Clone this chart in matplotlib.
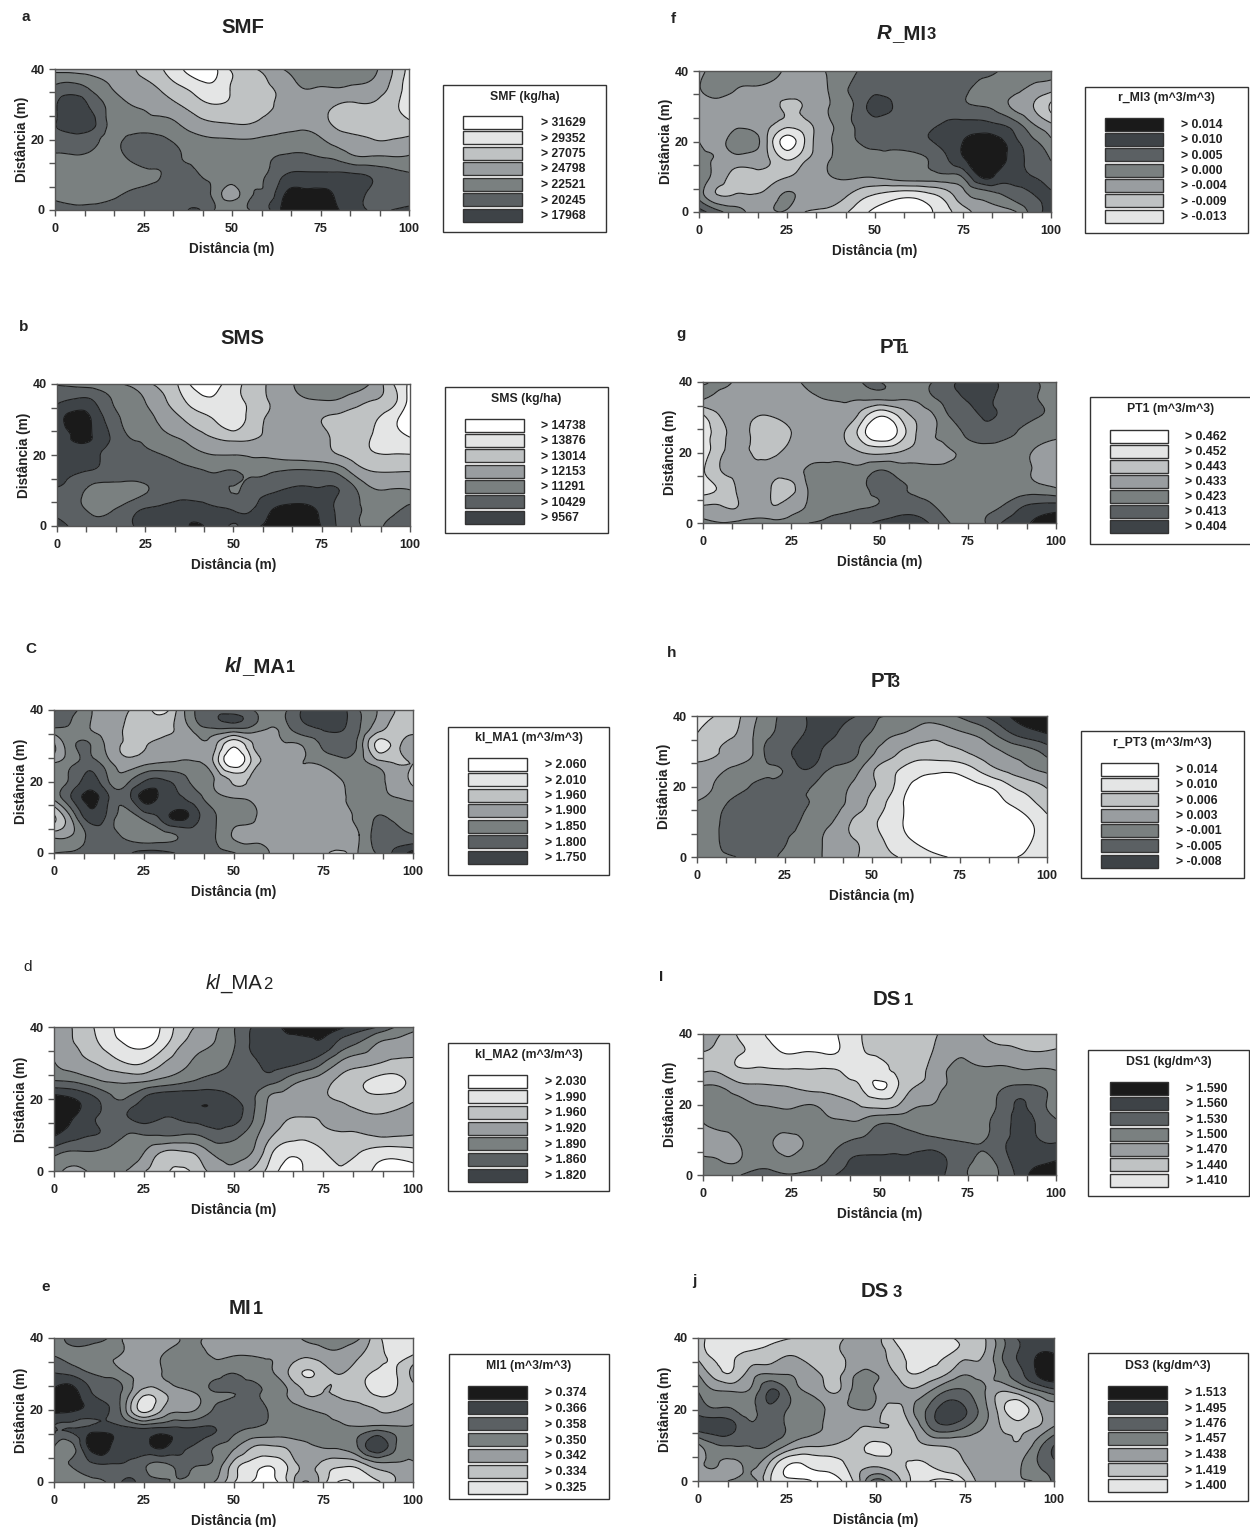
import numpy as np
import matplotlib
matplotlib.use("Agg")
import matplotlib.pyplot as plt
import matplotlib.tri as tri
from matplotlib.patches import Rectangle

plt.rcParams["font.family"] = ["Liberation Sans", "DejaVu Sans"]

# grey classes, darkest to white
band_colors = ["#1a1a1a", "#3e4347", "#5b6063", "#7a8080", "#999da0", "#bfc2c3", "#e4e5e5", "#ffffff"]
x_nodes = list(range(0, 101, 5))
y_nodes = [40, 35, 30, 25, 20, 15, 10, 5, 0]

# values in class units (3.5 = middle of the 4th grey), rows y=40..0, columns x=0..100
grid_a = [
    [4.3, 4.4, 4.5, 4.6, 4.8, 5.2, 5.9, 6.8, 7.5, 7.2, 5.8, 5.2, 4.6, 3.9, 3.4, 3.2, 3.3, 3.3, 3.8, 4.9, 6.3],
    [2.9, 2.7, 3.2, 3.9, 4.5, 4.7, 5.2, 5.9, 6.5, 6.8, 5.9, 5.5, 5.1, 4.6, 3.95, 4.0, 3.95, 4.1, 4.3, 5.2, 6.5],
    [2.2, 1.3, 2.2, 3.2, 3.9, 4.1, 4.5, 5.0, 5.6, 6.0, 5.8, 5.5, 5.2, 4.7, 4.5, 4.5, 5.0, 5.1, 5.1, 5.7, 6.3],
    [2.1, 1.2, 1.5, 3.1, 3.3, 3.6, 3.7, 4.1, 4.7, 5.0, 5.1, 5.1, 4.7, 4.4, 4.3, 4.6, 5.3, 5.5, 5.5, 5.5, 5.9],
    [2.4, 2.5, 2.7, 3.2, 2.95, 2.7, 2.8, 3.3, 3.7, 3.9, 3.95, 3.97, 3.8, 3.7, 3.6, 3.9, 4.5, 4.8, 5.0, 5.0, 4.8],
    [3.2, 3.1, 3.2, 3.4, 3.0, 2.5, 2.4, 2.9, 3.3, 3.5, 3.5, 3.4, 3.1, 2.9, 2.8, 3.0, 3.3, 3.9, 3.9, 3.95, 3.9],
    [3.5, 3.6, 3.6, 3.5, 3.4, 3.2, 3.0, 2.5, 2.9, 3.2, 3.5, 3.3, 2.95, 2.0, 1.8, 1.8, 1.8, 1.9, 2.2, 2.6, 2.9],
    [3.3, 3.4, 3.4, 3.3, 3.0, 2.8, 2.6, 2.5, 2.7, 3.3, 4.4, 3.2, 2.7, 1.05, 0.75, 0.8, 1.2, 1.7, 2.2, 2.5, 2.6],
    [2.5, 2.8, 2.8, 2.6, 2.4, 2.3, 2.2, 2.2, 1.9, 3.0, 3.5, 3.0, 2.2, 0.6, 0.3, 0.3, 0.95, 1.7, 2.1, 2.0, 1.7],
]
grid_b = [
    [3.1, 3.3, 3.5, 3.7, 4.1, 4.7, 5.4, 6.2, 7.6, 7.3, 6.4, 5.6, 4.9, 4.3, 3.6, 3.3, 3.4, 3.5, 4.3, 5.9, 7.2],
    [2.1, 1.8, 1.9, 2.9, 3.4, 4.0, 4.8, 5.7, 6.6, 6.9, 6.5, 5.7, 5.0, 4.5, 4.2, 4.1, 4.2, 4.7, 5.1, 5.7, 7.4],
    [1.6, 0.5, 1.1, 2.4, 3.2, 3.6, 4.3, 4.9, 5.5, 6.1, 6.6, 5.6, 4.9, 4.6, 4.6, 5.0, 5.3, 5.5, 5.9, 6.7, 7.6],
    [1.5, 0.9, 1.0, 2.0, 2.95, 3.2, 3.7, 4.1, 4.6, 5.1, 5.4, 5.2, 4.7, 4.3, 4.3, 4.7, 5.3, 5.7, 6.1, 6.6, 7.0],
    [1.4, 1.6, 1.7, 2.4, 2.6, 2.8, 3.0, 3.4, 3.8, 4.0, 4.0, 4.1, 4.15, 4.3, 4.4, 4.6, 5.0, 5.5, 5.9, 5.95, 5.95],
    [1.6, 1.9, 2.2, 2.4, 2.5, 2.5, 2.5, 2.6, 2.8, 3.0, 2.9, 3.2, 3.05, 2.8, 2.7, 2.8, 3.2, 4.4, 4.95, 4.97, 4.95],
    [2.1, 2.5, 3.3, 3.4, 3.4, 3.1, 2.6, 2.4, 2.4, 2.6, 3.05, 2.6, 2.2, 1.9, 1.8, 1.9, 2.0, 3.0, 3.9, 3.9, 3.95],
    [2.3, 2.6, 3.3, 3.2, 2.6, 2.0, 1.8, 1.5, 1.6, 1.9, 2.1, 2.1, 1.2, 0.8, 0.8, 1.3, 2.3, 2.9, 3.2, 3.2, 2.8],
    [1.6, 2.2, 2.5, 2.6, 2.2, 1.7, 1.4, 1.2, 0.9, 1.4, 2.1, 1.3, 0.8, 0.4, 0.4, 1.05, 2.2, 2.9, 3.2, 2.7, 2.4],
]
grid_c = [
    [3.1, 2.7, 3.9, 4.4, 4.9, 5.4, 6.5, 4.6, 2.8, 2.3, 2.5, 2.9, 3.6, 3.0, 1.8, 1.5, 1.7, 3.0, 4.0, 5.0, 5.5],
    [3.0, 3.3, 4.0, 4.5, 5.1, 5.5, 5.4, 4.7, 3.4, 2.9, 2.9, 3.2, 4.0, 3.2, 2.2, 1.9, 1.9, 2.9, 4.5, 5.4, 5.4],
    [5.2, 3.3, 2.95, 4.3, 5.1, 5.05, 4.7, 4.4, 4.2, 4.9, 6.9, 5.2, 4.4, 4.1, 3.9, 2.8, 2.4, 3.4, 6.3, 5.5, 4.6],
    [3.9, 3.2, 2.5, 3.6, 4.6, 4.2, 3.9, 3.8, 3.9, 5.3, 7.6, 5.8, 4.7, 4.3, 4.0, 3.9, 3.4, 3.6, 4.4, 5.0, 5.0],
    [3.3, 2.7, 1.6, 2.9, 3.3, 2.0, 1.8, 2.4, 3.4, 4.1, 5.1, 4.8, 4.3, 4.3, 4.3, 4.2, 4.05, 3.4, 3.7, 4.4, 5.2],
    [3.9, 2.0, 0.7, 1.9, 2.6, 0.7, 1.5, 1.9, 2.6, 3.6, 3.9, 4.1, 4.4, 4.5, 4.5, 4.5, 4.2, 3.6, 3.6, 3.9, 4.1],
    [6.2, 3.8, 1.5, 2.3, 3.4, 2.7, 1.7, 0.7, 1.8, 2.95, 3.6, 3.9, 4.3, 4.5, 4.5, 4.5, 4.3, 3.7, 2.95, 3.3, 3.6],
    [4.4, 4.0, 2.7, 2.6, 3.2, 3.5, 3.3, 2.9, 2.6, 3.0, 4.1, 4.2, 4.2, 4.3, 4.4, 4.5, 4.4, 4.0, 2.6, 2.6, 2.95],
    [3.0, 2.9, 2.5, 2.3, 2.2, 1.6, 1.7, 2.1, 2.6, 2.7, 2.95, 3.5, 4.0, 4.3, 4.5, 4.8, 5.3, 3.9, 2.9, 1.8, 0.6],
]
grid_d = [
    [4.3, 5.0, 5.8, 6.7, 7.5, 7.8, 6.9, 5.6, 4.9, 4.2, 3.1, 2.0, 1.3, 0.9, 0.5, 0.5, 0.8, 1.4, 2.0, 3.0, 3.6],
    [4.3, 4.9, 5.5, 6.4, 7.0, 7.2, 6.4, 5.1, 4.4, 3.9, 3.1, 1.9, 1.5, 1.15, 1.2, 1.3, 2.5, 3.2, 4.1, 4.4, 4.6],
    [3.95, 4.5, 4.9, 5.4, 6.0, 6.0, 5.1, 4.4, 3.7, 3.3, 2.9, 2.3, 1.7, 1.7, 2.1, 3.0, 4.2, 4.7, 4.95, 5.2, 5.1],
    [2.95, 3.1, 3.6, 4.1, 4.2, 4.1, 3.7, 3.3, 2.9, 2.7, 2.6, 2.5, 2.6, 3.4, 4.1, 4.6, 5.3, 5.8, 6.3, 6.4, 5.5],
    [0.5, 0.9, 1.6, 2.6, 2.95, 1.9, 1.3, 1.2, 1.2, 1.3, 1.9, 2.7, 4.1, 4.4, 4.6, 4.9, 5.1, 5.5, 5.7, 5.5, 5.1],
    [0.4, 0.9, 1.7, 2.3, 2.1, 1.5, 1.9, 1.8, 1.5, 1.4, 1.6, 2.8, 4.3, 4.95, 5.0, 4.9, 4.7, 4.8, 4.9, 4.85, 4.8],
    [0.9, 1.5, 1.95, 2.3, 3.0, 3.0, 2.95, 3.0, 3.0, 2.4, 2.7, 3.5, 4.8, 5.5, 5.7, 5.3, 5.1, 5.1, 4.9, 4.9, 5.0],
    [2.7, 3.2, 3.1, 3.3, 3.5, 4.0, 5.1, 5.2, 4.8, 3.8, 3.6, 4.0, 5.7, 6.8, 6.7, 6.1, 5.7, 6.0, 6.5, 6.6, 6.4],
    [3.6, 4.3, 3.9, 3.6, 4.0, 4.9, 5.5, 6.4, 5.5, 4.6, 4.2, 5.2, 6.3, 7.5, 6.9, 6.4, 6.0, 6.5, 7.2, 7.5, 7.3],
]
grid_e = [
    [3.3, 2.8, 2.5, 3.0, 4.2, 4.5, 4.4, 4.0, 3.9, 4.4, 4.7, 4.8, 4.8, 4.6, 3.8, 3.4, 3.3, 3.9, 5.7, 6.5, 6.4],
    [3.0, 3.2, 3.5, 3.9, 4.1, 4.4, 4.0, 3.7, 3.7, 4.1, 4.0, 4.0, 4.1, 4.4, 4.9, 4.5, 4.4, 4.95, 5.6, 6.3, 5.9],
    [1.9, 2.2, 2.9, 3.3, 3.9, 4.3, 4.0, 3.8, 3.6, 3.4, 2.95, 3.5, 3.8, 4.9, 6.1, 5.5, 5.0, 5.6, 6.2, 6.1, 4.6],
    [0.9, 0.6, 1.9, 2.5, 3.4, 5.5, 5.1, 4.3, 3.8, 3.0, 2.95, 2.7, 3.4, 4.0, 5.05, 5.0, 5.2, 5.6, 6.2, 6.0, 5.5],
    [0.7, 0.8, 1.3, 1.9, 3.95, 6.3, 5.0, 4.2, 3.9, 2.8, 2.3, 2.3, 3.1, 3.5, 3.9, 4.1, 4.4, 4.7, 5.0, 5.05, 4.6],
    [1.95, 2.0, 1.7, 1.5, 1.8, 2.1, 1.9, 1.9, 1.9, 2.0, 2.7, 3.0, 3.2, 3.3, 3.4, 3.6, 3.7, 3.8, 3.5, 3.7, 3.7],
    [2.9, 3.3, 0.7, 0.8, 1.6, 1.4, 0.8, 1.6, 2.2, 3.0, 3.7, 4.85, 5.05, 4.8, 4.2, 3.9, 3.8, 2.8, 1.2, 2.9, 3.2],
    [3.4, 2.9, 2.2, 2.0, 2.1, 2.7, 3.2, 2.6, 2.9, 3.3, 5.3, 6.4, 6.8, 5.9, 4.6, 5.3, 5.7, 5.4, 4.3, 4.2, 4.2],
    [3.4, 3.5, 3.3, 2.9, 1.8, 2.5, 2.8, 3.2, 3.6, 4.1, 5.9, 7.0, 7.5, 6.0, 3.9, 5.6, 7.2, 6.6, 6.2, 5.0, 4.7],
]
grid_f = [
    [4.3, 3.5, 3.3, 3.3, 3.5, 4.2, 4.4, 4.1, 3.4, 3.0, 2.6, 2.4, 2.4, 2.4, 2.4, 2.5, 2.7, 3.0, 3.4, 3.6, 3.8],
    [4.1, 3.4, 3.9, 4.1, 4.2, 4.4, 4.4, 4.2, 3.4, 2.7, 2.4, 2.3, 2.3, 2.3, 2.4, 2.7, 3.3, 3.4, 3.7, 4.3, 4.6],
    [4.5, 4.5, 4.5, 4.5, 4.6, 5.2, 4.9, 4.3, 3.6, 2.7, 1.6, 2.0, 2.2, 2.3, 2.4, 2.8, 3.0, 3.4, 4.3, 5.0, 6.2],
    [4.4, 4.4, 4.3, 4.3, 4.8, 5.5, 5.3, 4.4, 3.7, 2.8, 2.5, 2.4, 2.3, 2.2, 1.9, 1.7, 1.7, 2.0, 2.7, 4.0, 4.9],
    [4.0, 4.3, 3.5, 3.4, 5.4, 7.4, 6.0, 4.4, 3.7, 3.0, 2.8, 2.6, 2.4, 2.1, 1.6, 1.0, 0.6, 0.7, 1.8, 2.8, 3.8],
    [3.7, 4.1, 4.4, 4.5, 5.0, 6.1, 5.2, 4.3, 3.7, 3.4, 3.1, 3.3, 3.3, 3.0, 2.2, 1.1, 0.6, 0.6, 1.6, 2.3, 3.05],
    [3.5, 4.4, 5.3, 5.4, 5.3, 5.05, 4.6, 4.2, 3.9, 3.9, 3.9, 3.6, 3.4, 3.4, 3.3, 2.9, 0.95, 1.3, 1.7, 2.0, 2.4],
    [3.4, 5.0, 5.0, 5.0, 4.6, 3.9, 4.3, 4.4, 4.6, 5.4, 6.0, 6.4, 6.6, 6.2, 5.5, 4.3, 3.6, 3.1, 2.5, 2.0, 1.9],
    [1.6, 2.6, 3.5, 4.2, 4.1, 4.1, 5.0, 5.2, 5.6, 6.5, 7.2, 7.6, 7.7, 7.2, 6.4, 5.4, 4.7, 4.3, 4.05, 2.5, 1.6],
]
grid_g = [
    [4.3, 3.7, 4.2, 4.5, 4.4, 4.2, 3.8, 3.4, 3.2, 3.0, 3.0, 3.4, 3.7, 3.0, 2.2, 1.7, 1.6, 2.2, 2.6, 3.0, 3.3],
    [4.0, 4.5, 4.6, 4.6, 4.5, 4.4, 4.2, 4.0, 3.9, 3.95, 3.98, 3.95, 3.9, 3.2, 2.6, 1.9, 1.7, 2.4, 2.7, 3.0, 3.3],
    [6.3, 5.0, 4.6, 5.0, 5.0, 4.6, 4.4, 4.3, 4.4, 5.6, 7.1, 6.2, 4.9, 4.2, 3.0, 2.5, 1.9, 2.3, 2.7, 3.0, 3.3],
    [6.4, 5.4, 4.6, 5.3, 5.5, 5.0, 4.5, 4.4, 5.0, 6.5, 7.9, 6.9, 5.1, 4.1, 3.6, 2.8, 2.4, 2.8, 3.1, 3.5, 3.8],
    [6.5, 5.2, 4.6, 5.2, 5.2, 4.7, 4.5, 4.4, 4.6, 5.0, 5.2, 5.0, 4.7, 4.5, 4.1, 3.8, 3.6, 3.5, 3.6, 4.3, 4.7],
    [6.1, 5.0, 4.7, 4.9, 4.6, 4.4, 3.8, 3.6, 3.6, 3.6, 3.0, 3.4, 3.6, 3.7, 3.7, 3.6, 3.6, 3.6, 3.7, 4.2, 4.5],
    [6.4, 5.8, 4.8, 4.4, 5.2, 5.3, 3.9, 3.5, 3.4, 3.2, 2.6, 2.8, 3.1, 3.4, 3.5, 3.5, 3.5, 3.5, 3.6, 3.7, 4.0],
    [5.0, 5.0, 5.0, 4.4, 5.0, 4.5, 3.9, 3.4, 3.2, 3.1, 2.95, 2.6, 2.6, 2.95, 3.5, 3.5, 3.3, 3.0, 2.2, 1.8, 1.7],
    [3.5, 3.95, 3.7, 3.5, 3.6, 3.3, 3.0, 2.8, 2.7, 2.3, 1.8, 1.5, 1.4, 2.2, 3.0, 3.4, 3.0, 1.9, 1.3, 0.8, 0.3],
]
grid_h = [
    [6.3, 6.0, 5.4, 4.5, 3.4, 2.8, 2.1, 1.9, 1.8, 1.95, 2.8, 3.05, 3.4, 3.5, 3.2, 2.9, 2.3, 1.6, 0.9, 0.5, 0.3],
    [6.0, 5.3, 5.1, 4.3, 3.2, 2.7, 2.1, 1.5, 2.0, 2.6, 3.1, 3.8, 4.1, 4.6, 4.6, 4.2, 3.8, 3.0, 2.0, 1.4, 1.0],
    [5.3, 5.1, 4.8, 4.3, 2.8, 2.3, 1.5, 1.9, 2.4, 2.8, 3.8, 4.6, 5.2, 5.4, 5.3, 5.1, 4.7, 4.2, 3.7, 3.3, 2.6],
    [4.8, 4.4, 3.9, 3.5, 3.1, 2.9, 2.0, 2.5, 3.2, 3.6, 4.8, 5.6, 6.3, 6.7, 6.75, 6.6, 5.9, 5.1, 4.6, 4.1, 3.7],
    [4.4, 3.95, 3.4, 3.0, 2.8, 2.7, 2.8, 3.2, 3.6, 4.2, 4.9, 5.7, 6.9, 7.3, 7.6, 7.6, 7.25, 6.8, 6.0, 5.5, 4.9],
    [3.9, 3.5, 2.8, 2.6, 2.5, 2.5, 2.9, 3.1, 3.7, 4.4, 5.3, 6.2, 7.2, 7.9, 8.3, 8.4, 8.0, 7.5, 6.9, 6.3, 5.6],
    [3.6, 3.2, 2.6, 2.4, 2.4, 2.4, 3.1, 3.6, 4.2, 5.2, 5.8, 6.5, 7.15, 7.9, 8.5, 8.7, 8.6, 8.2, 7.8, 7.1, 6.3],
    [3.5, 3.2, 2.5, 2.4, 2.5, 2.9, 3.4, 3.9, 4.5, 5.0, 5.5, 6.3, 6.9, 7.4, 8.0, 8.4, 8.5, 8.2, 7.7, 7.1, 6.5],
    [3.4, 3.1, 3.1, 2.6, 2.6, 3.3, 3.6, 3.95, 4.3, 4.9, 5.4, 5.8, 6.2, 6.6, 6.9, 7.2, 7.5, 7.5, 7.1, 6.8, 6.3],
]
grid_i = [
    [4.3, 5.0, 6.1, 6.6, 7.4, 7.6, 7.7, 7.4, 6.7, 6.0, 5.7, 5.5, 5.3, 5.1, 4.7, 4.3, 5.1, 5.2, 5.3, 5.3, 5.3],
    [5.0, 5.4, 5.9, 6.2, 6.8, 7.1, 7.0, 7.1, 6.8, 6.1, 5.8, 5.6, 5.4, 5.0, 4.4, 4.2, 4.6, 4.7, 4.9, 5.0, 4.9],
    [5.2, 5.3, 5.9, 5.9, 5.95, 5.97, 6.0, 5.95, 6.2, 6.5, 6.3, 5.8, 5.4, 4.7, 3.9, 3.8, 3.9, 3.8, 4.0, 3.95, 4.05],
    [3.9, 4.0, 4.6, 4.8, 4.9, 5.03, 5.3, 5.4, 5.6, 6.1, 7.15, 6.1, 5.0, 4.5, 3.8, 3.7, 3.7, 3.1, 2.8, 2.95, 3.4],
    [3.6, 3.7, 3.8, 4.0, 4.1, 4.2, 4.0, 4.3, 4.7, 5.1, 5.4, 5.1, 4.2, 4.0, 3.6, 3.5, 3.4, 2.6, 1.9, 2.6, 3.3],
    [4.0, 3.7, 3.6, 3.5, 3.5, 3.5, 3.6, 3.8, 3.9, 3.8, 3.15, 3.2, 3.3, 3.4, 3.4, 3.5, 3.1, 2.5, 1.6, 2.2, 2.9],
    [4.4, 4.5, 3.9, 3.5, 4.0, 4.4, 3.7, 3.4, 3.1, 2.9, 2.5, 2.4, 2.6, 2.8, 3.0, 3.1, 3.0, 2.3, 1.5, 1.95, 2.2],
    [3.95, 4.1, 4.1, 3.4, 3.6, 3.95, 3.4, 3.1, 2.3, 1.9, 1.9, 1.9, 1.8, 1.6, 2.2, 2.8, 3.1, 2.4, 1.4, 1.3, 1.2],
    [3.7, 3.6, 3.1, 2.5, 2.6, 2.9, 2.6, 2.4, 1.6, 1.4, 1.3, 1.3, 1.2, 1.5, 2.3, 3.0, 3.6, 2.7, 1.6, 0.4, 0.2],
]
grid_j = [
    [5.7, 6.4, 6.5, 6.4, 6.3, 6.1, 5.8, 5.4, 5.1, 4.5, 4.6, 6.1, 6.4, 6.5, 6.2, 5.6, 5.2, 3.3, 1.9, 1.4, 1.5],
    [5.3, 6.2, 6.1, 5.7, 5.5, 5.0, 5.2, 5.4, 5.1, 4.5, 4.4, 5.5, 6.2, 6.3, 6.0, 5.3, 5.0, 3.2, 1.9, 1.0, 0.9],
    [4.0, 5.5, 5.8, 4.5, 4.0, 4.05, 4.5, 5.1, 5.1, 3.9, 4.0, 4.9, 6.0, 5.7, 5.0, 4.1, 4.5, 3.6, 2.4, 1.0, 0.5],
    [3.0, 3.9, 4.0, 3.7, 1.9, 2.9, 4.0, 4.7, 4.9, 3.5, 4.1, 4.5, 4.7, 4.0, 2.9, 2.9, 3.8, 5.0, 4.5, 3.4, 2.5],
    [2.4, 2.9, 3.0, 3.3, 2.3, 3.0, 3.5, 3.9, 4.3, 4.0, 4.4, 5.4, 4.2, 2.7, 1.4, 1.9, 3.5, 5.5, 6.7, 5.3, 4.5],
    [1.6, 1.4, 1.8, 2.9, 2.5, 3.1, 3.6, 4.0, 4.4, 4.95, 5.0, 5.1, 5.0, 3.05, 2.3, 3.0, 3.95, 5.0, 5.4, 5.0, 3.9],
    [4.2, 3.1, 2.95, 2.95, 3.0, 4.05, 4.8, 4.9, 5.2, 5.7, 6.2, 5.8, 5.3, 5.0, 4.9, 4.6, 4.4, 4.6, 4.9, 3.6, 2.0],
    [4.3, 3.9, 4.2, 3.7, 5.0, 6.8, 6.9, 6.6, 6.2, 5.4, 5.4, 5.7, 6.1, 5.9, 5.4, 5.0, 4.4, 4.4, 4.2, 3.1, 2.2],
    [4.5, 4.3, 3.8, 3.4, 5.8, 6.7, 6.9, 7.2, 7.1, 5.3, 2.5, 4.2, 6.1, 7.0, 7.3, 6.0, 4.5, 4.3, 4.1, 3.9, 2.8],
]
grids = [grid_a, grid_b, grid_c, grid_d, grid_e, grid_f, grid_g, grid_h, grid_i, grid_j]

legend_a = ["> 31629", "> 29352", "> 27075", "> 24798", "> 22521", "> 20245", "> 17968"]
legend_b = ["> 14738", "> 13876", "> 13014", "> 12153", "> 11291", "> 10429", "> 9567"]
legend_c = ["> 2.060", "> 2.010", "> 1.960", "> 1.900", "> 1.850", "> 1.800", "> 1.750"]
legend_d = ["> 2.030", "> 1.990", "> 1.960", "> 1.920", "> 1.890", "> 1.860", "> 1.820"]
legend_e = ["> 0.374", "> 0.366", "> 0.358", "> 0.350", "> 0.342", "> 0.334", "> 0.325"]
legend_f = ["> 0.014", "> 0.010", "> 0.005", "> 0.000", "> -0.004", "> -0.009", "> -0.013"]
legend_g = ["> 0.462", "> 0.452", "> 0.443", "> 0.433", "> 0.423", "> 0.413", "> 0.404"]
legend_h = ["> 0.014", "> 0.010", "> 0.006", "> 0.003", "> -0.001", "> -0.005", "> -0.008"]
legend_i = ["> 1.590", "> 1.560", "> 1.530", "> 1.500", "> 1.470", "> 1.440", "> 1.410"]
legend_j = ["> 1.513", "> 1.495", "> 1.476", "> 1.457", "> 1.438", "> 1.419", "> 1.400"]
legends = [legend_a, legend_b, legend_c, legend_d, legend_e, legend_f, legend_g, legend_h, legend_i, legend_j]
legend_titles = ["SMF (kg/ha)", "SMS (kg/ha)", "kl_MA1 (m^3/m^3)", "kl_MA2 (m^3/m^3)", "MI1 (m^3/m^3)",
                 "r_MI3 (m^3/m^3)", "PT1 (m^3/m^3)", "r_PT3 (m^3/m^3)", "DS1 (kg/dm^3)", "DS3 (kg/dm^3)"]
# first class of each legend: 7 = white on top, 0 = black on top
legend_first = [7, 7, 7, 7, 0, 0, 7, 7, 0, 0]

letters = ["a", "b", "C", "d", "e", "f", "g", "h", "I", "j"]
letter_pos = [(26, 17), (24, 327), (31, 649), (28, 967), (46, 1287), (673, 19), (681, 334), (672, 653), (661, 977), (694, 1281)]

# title pieces: text, style, weight, size, gap before in px
B, I, R = "bold", "italic", "normal"
titles = [
    [("SMF", R, B, 14.7, 0)],
    [("SMS", R, B, 14.7, 0)],
    [("kl", I, B, 14.7, 0), ("_MA", R, B, 14.7, 0), ("1", R, B, 11.5, 1)],
    [("kl", I, R, 14.7, 0), ("_MA", R, R, 14.7, 0), ("2", R, R, 12, 1)],
    [("MI", R, B, 14.7, 0), ("1", R, B, 13, 1)],
    [("R", I, B, 14.7, 0), ("_MI", R, B, 14.7, 0), ("3", R, B, 12, 1)],
    [("PT", R, B, 14.7, 0), ("1", R, B, 11, -6)],
    [("PT", R, B, 14.7, 0), ("3", R, B, 11.5, -7)],
    [("DS", R, B, 14.7, 0), ("1", R, B, 12, 3)],
    [("DS", R, B, 14.7, 0), ("3", R, B, 12, 3)],
]
title_pos = [(221, 33), (220, 344), (225, 672), (206, 989), (229, 1314), (877, 39), (880, 353), (871, 687), (873, 1005), (861, 1297)]

# left, right, top, bottom in px
axes_px = [(55, 409, 69, 210), (57, 410, 384, 526), (54, 413, 710, 853), (54, 413, 1027, 1171), (54, 413, 1338, 1482),
           (699, 1051, 71, 212), (703, 1056, 382, 523), (697, 1047, 716, 857), (703, 1056, 1034, 1175), (698, 1054, 1338, 1481)]
# box left, right, top, bottom, title y, first row y, last row y, swatch left, swatch right, label x
legend_px = [(443, 606, 85, 232, 97, 122, 215, 463, 522, 541), (445, 608, 387, 533, 399, 425, 517, 465, 524, 541),
             (448, 609, 727, 875, 738, 764, 857, 468, 527, 545), (448, 609, 1043, 1191, 1055, 1081, 1175, 468, 527, 545),
             (449, 609, 1354, 1499, 1366, 1392, 1487, 468, 527, 545), (1085, 1248, 87, 233, 98, 124, 216, 1105, 1163, 1181),
             (1090, 1252, 397, 544, 409, 436, 526, 1110, 1168, 1185), (1081, 1244, 731, 878, 743, 769, 861, 1101, 1158, 1176),
             (1088, 1249, 1050, 1196, 1062, 1088, 1180, 1110, 1168, 1186), (1088, 1248, 1353, 1501, 1366, 1392, 1485, 1108, 1167, 1185)]

W, H = 1250, 1527
fig = plt.figure(figsize=(W / 100, H / 100), dpi=100)
overlay = fig.add_axes([0, 0, 1, 1])
overlay.set_xlim(0, W)
overlay.set_ylim(H, 0)
overlay.axis("off")

xx, yy = np.meshgrid(x_nodes, y_nodes)
mesh = tri.Triangulation(xx.ravel().astype(float), yy.ravel().astype(float))
refiner = tri.UniformTriRefiner(mesh)
text_c = "#222222"

for i, grid in enumerate(grids):
    l, r, t, b = axes_px[i]
    ax = fig.add_axes([l / W, 1 - b / H, (r - l) / W, (b - t) / H])
    fine, z = refiner.refine_field(np.array(grid, dtype=float).ravel(), subdiv=3)
    z = np.clip(z, -0.5, 8.5)
    ax.tricontourf(fine, z, levels=[-1, 1, 2, 3, 4, 5, 6, 7, 9], colors=band_colors)
    ax.tricontour(fine, z, levels=[1, 2, 3, 4, 5, 6, 7], colors="#1c1c1c", linewidths=0.8)
    ax.set_xlim(0, 100)
    ax.set_ylim(0, 40)
    ax.set_xticks([0, 25, 50, 75, 100])
    ax.set_yticks([0, 20, 40])
    ax.set_xticks(np.linspace(0, 100, 13), minor=True)
    ax.set_yticks(np.linspace(0, 40, 7), minor=True)
    ax.tick_params(which="both", length=4.5, width=1.0, color="#555555", direction="out")
    ax.tick_params(which="major", labelsize=9, labelcolor=text_c, pad=3)
    ax.tick_params(axis="x", which="major", pad=5)
    for lab in ax.get_xticklabels() + ax.get_yticklabels():
        lab.set_fontweight("bold")
    for sp in ax.spines.values():
        sp.set_color("#555555")
        sp.set_linewidth(1.0)
    ax.set_xlabel("Distância (m)", fontsize=9.8, fontweight="bold", color=text_c, va="center")
    ax.set_ylabel("Distância (m)", fontsize=9.8, fontweight="bold", color=text_c, va="center")
    ax.xaxis.set_label_coords(0.5, -39 / (b - t))
    ax.yaxis.set_label_coords(-33 / (r - l), 0.5)

    # legend box
    bl, br, bt, bb, ty, y0, y1, sl, sr, lx = legend_px[i]
    overlay.add_patch(Rectangle((bl, bt), br - bl, bb - bt, fc="white", ec="#333333", lw=1.0))
    overlay.text((bl + br) / 2, ty, legend_titles[i], fontsize=8.8, fontweight="bold", color=text_c, ha="center", va="center")
    rows = np.linspace(y0, y1, 7)
    for k, (ry, lab) in enumerate(zip(rows, legends[i])):
        idx = 7 - k if legend_first[i] == 7 else k
        overlay.add_patch(Rectangle((sl, ry - 6.5), sr - sl, 13, fc=band_colors[idx], ec="#333333", lw=1.0))
        overlay.text(lx, ry + 1, lab, fontsize=8.8, fontweight="bold", color=text_c, ha="left", va="center")

    # panel letter and title
    lx0, ly0 = letter_pos[i]
    overlay.text(lx0, ly0, letters[i], fontsize=11, fontweight="normal" if letters[i] == "d" else "bold",
                 color=text_c, ha="center", va="center")
    tx, ty0 = title_pos[i]
    renderer = fig.canvas.get_renderer()
    for text, style, weight, size, gap in titles[i]:
        tx += gap
        part = overlay.text(tx, ty0, text, fontsize=size, fontstyle=style, fontweight=weight, color=text_c,
                            ha="left", va="baseline")
        tx += part.get_window_extent(renderer).width

fig.savefig("out.png", dpi=100)
